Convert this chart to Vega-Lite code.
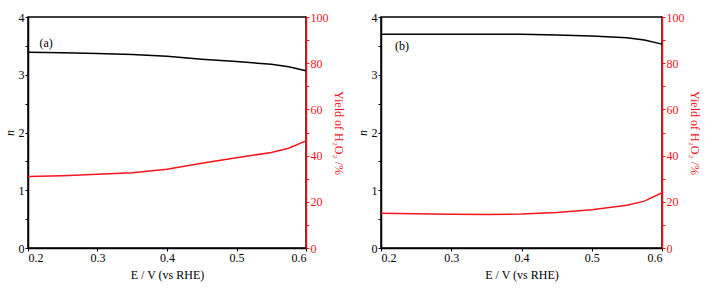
{
  "$schema": "https://vega.github.io/schema/vega-lite/v6.json",
  "padding": {"left": 2, "top": 10, "right": 2, "bottom": 2},
  "config": {
    "font": "Liberation Serif",
    "view": {"stroke": "black", "strokeWidth": 1.5},
    "text": {"font": "Liberation Serif"},
    "axis": {"grid": false, "labelFont": "Liberation Serif", "titleFont": "Liberation Serif", "labelFontSize": 12, "titleFontSize": 12, "titleFontWeight": "normal", "tickSize": 3, "domainWidth": 1.5, "tickWidth": 1, "labelPadding": 1, "domainColor": "black", "tickColor": "black", "labelColor": "black", "titleColor": "black"}
  },
  "datasets": {
    "a": [
      {"E": 0.2, "n": 3.39, "Y": 30.9},
      {"E": 0.25, "n": 3.38, "Y": 31.3},
      {"E": 0.3, "n": 3.37, "Y": 31.9},
      {"E": 0.35, "n": 3.35, "Y": 32.6},
      {"E": 0.4, "n": 3.32, "Y": 34.1},
      {"E": 0.45, "n": 3.27, "Y": 36.7},
      {"E": 0.5, "n": 3.23, "Y": 39.1},
      {"E": 0.55, "n": 3.18, "Y": 41.3},
      {"E": 0.575, "n": 3.14, "Y": 43.2},
      {"E": 0.6, "n": 3.07, "Y": 46.4}
    ],
    "b": [
      {"E": 0.2, "n": 3.7, "Y": 15.0},
      {"E": 0.25, "n": 3.7, "Y": 14.8},
      {"E": 0.3, "n": 3.7, "Y": 14.6},
      {"E": 0.35, "n": 3.7, "Y": 14.5},
      {"E": 0.4, "n": 3.7, "Y": 14.7},
      {"E": 0.45, "n": 3.69, "Y": 15.4},
      {"E": 0.5, "n": 3.67, "Y": 16.6},
      {"E": 0.55, "n": 3.64, "Y": 18.5},
      {"E": 0.575, "n": 3.6, "Y": 20.3},
      {"E": 0.6, "n": 3.53, "Y": 23.9}
    ],
    "labA": [{"E": 0.226, "n": 3.55, "t": "(a)"}],
    "labB": [{"E": 0.23, "n": 3.5, "t": "(b)"}]
  },
  "hconcat": [
    {
      "width": 278,
      "height": 231,
      "layer": [
        {
          "data": {"name": "a"},
          "mark": {"type": "line", "color": "black", "strokeWidth": 1.5},
          "encoding": {
            "x": {"field": "E", "type": "quantitative", "scale": {"domain": [0.2, 0.6], "nice": false}, "axis": {"title": "E / V (vs RHE)", "values": [0.2, 0.25, 0.3, 0.35, 0.4, 0.45, 0.5, 0.55, 0.6], "labelExpr": "(round(datum.value*100)%10==0) ? format(datum.value,'.1f') : ''", "titlePadding": 6}},
            "y": {"field": "n", "type": "quantitative", "scale": {"domain": [0, 4], "nice": false}, "axis": {"title": "n", "titleFontStyle": "italic", "values": [0, 0.5, 1, 1.5, 2, 2.5, 3, 3.5, 4], "labelExpr": "(datum.value%1==0) ? format(datum.value,'.0f') : ''", "titlePadding": 2}}
          }
        },
        {
          "data": {"name": "labA"},
          "mark": {"type": "text", "fontSize": 12},
          "encoding": {
            "x": {"field": "E", "type": "quantitative"},
            "y": {"field": "n", "type": "quantitative", "scale": {"domain": [0, 4], "nice": false}, "axis": null},
            "text": {"field": "t"}
          }
        },
        {
          "data": {"name": "a"},
          "mark": {"type": "line", "color": "#f2141e", "strokeWidth": 1.5},
          "encoding": {
            "x": {"field": "E", "type": "quantitative"},
            "y": {"field": "Y", "type": "quantitative", "scale": {"domain": [0, 100], "nice": false}, "axis": {"orient": "right", "title": "Yield of H₂O₂ /%", "values": [0, 10, 20, 30, 40, 50, 60, 70, 80, 90, 100], "labelExpr": "(datum.value%20==0) ? format(datum.value,'.0f') : ''", "domainColor": "#f2141e", "tickColor": "#f2141e", "labelColor": "#f2141e", "titleColor": "#f2141e", "titlePadding": 3}}
          }
        }
      ],
      "resolve": {"scale": {"y": "independent"}}
    },
    {
      "width": 281,
      "height": 231,
      "layer": [
        {
          "data": {"name": "b"},
          "mark": {"type": "line", "color": "black", "strokeWidth": 1.5},
          "encoding": {
            "x": {"field": "E", "type": "quantitative", "scale": {"domain": [0.2, 0.6], "nice": false}, "axis": {"title": "E / V (vs RHE)", "values": [0.2, 0.25, 0.3, 0.35, 0.4, 0.45, 0.5, 0.55, 0.6], "labelExpr": "(round(datum.value*100)%10==0) ? format(datum.value,'.1f') : ''", "titlePadding": 6}},
            "y": {"field": "n", "type": "quantitative", "scale": {"domain": [0, 4], "nice": false}, "axis": {"title": "n", "titleFontStyle": "italic", "values": [0, 0.5, 1, 1.5, 2, 2.5, 3, 3.5, 4], "labelExpr": "(datum.value%1==0) ? format(datum.value,'.0f') : ''", "titlePadding": 2}}
          }
        },
        {
          "data": {"name": "labB"},
          "mark": {"type": "text", "fontSize": 12},
          "encoding": {
            "x": {"field": "E", "type": "quantitative"},
            "y": {"field": "n", "type": "quantitative", "scale": {"domain": [0, 4], "nice": false}, "axis": null},
            "text": {"field": "t"}
          }
        },
        {
          "data": {"name": "b"},
          "mark": {"type": "line", "color": "#f2141e", "strokeWidth": 1.5},
          "encoding": {
            "x": {"field": "E", "type": "quantitative"},
            "y": {"field": "Y", "type": "quantitative", "scale": {"domain": [0, 100], "nice": false}, "axis": {"orient": "right", "title": "Yield of H₂O₂ /%", "values": [0, 10, 20, 30, 40, 50, 60, 70, 80, 90, 100], "labelExpr": "(datum.value%20==0) ? format(datum.value,'.0f') : ''", "domainColor": "#f2141e", "tickColor": "#f2141e", "labelColor": "#f2141e", "titleColor": "#f2141e", "titlePadding": 3}}
          }
        }
      ],
      "resolve": {"scale": {"y": "independent"}}
    }
  ],
  "spacing": 10
}
